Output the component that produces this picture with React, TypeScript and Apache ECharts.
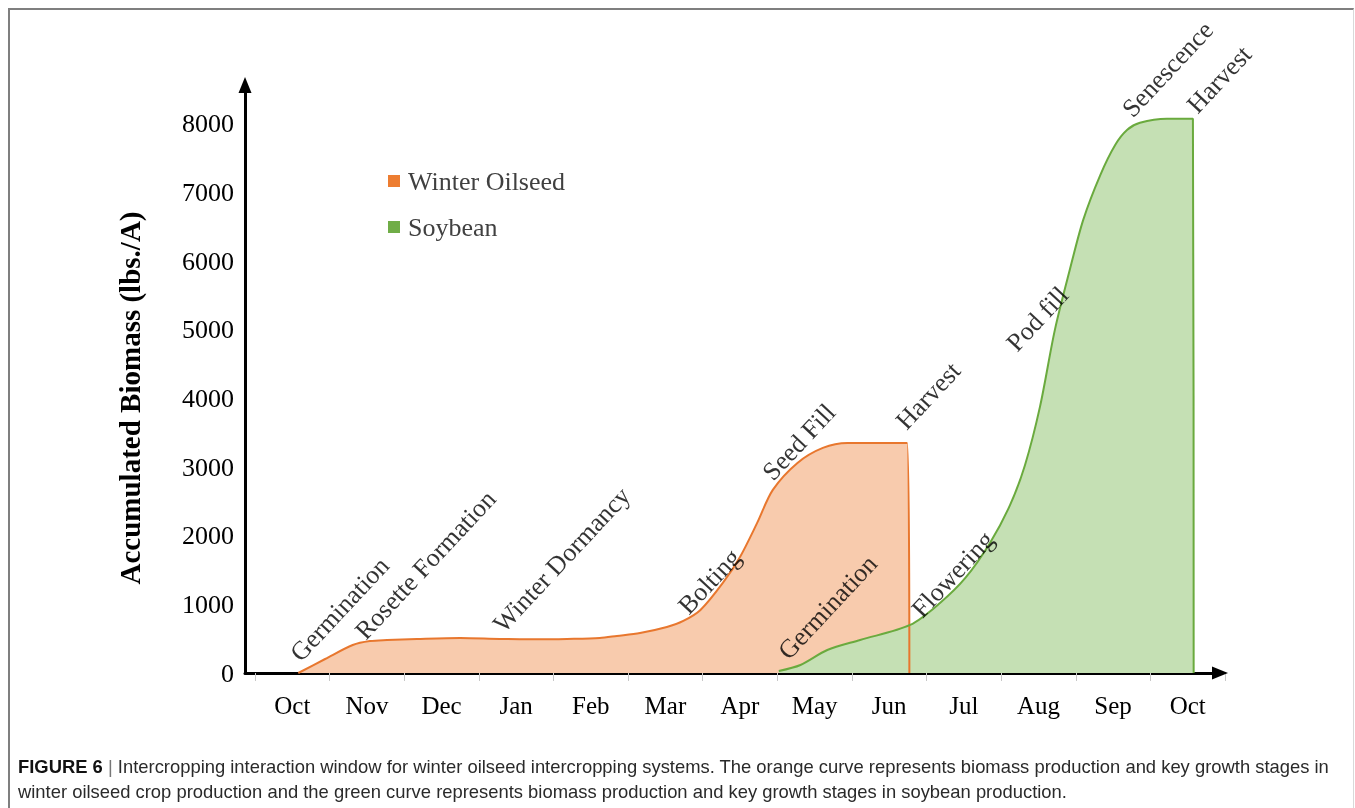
import React, { useEffect, useRef } from 'react';
import * as echarts from 'echarts';

const monthLabels = ['Oct', 'Nov', 'Dec', 'Jan', 'Feb', 'Mar', 'Apr', 'May', 'Jun', 'Jul', 'Aug', 'Sep', 'Oct'];

// x = months elapsed since start of first October, y = accumulated biomass (lbs./A)
const oilseedX = [0.58, 0.94, 1.31, 1.54, 1.77, 2.17, 2.75, 3.28, 3.82, 4.18, 4.62, 4.85, 5.16, 5.52, 5.74, 5.97, 6.27, 6.5, 6.73, 6.94, 7.27, 7.61, 7.94, 8.38, 8.74, 8.77];
const oilseedY = [0, 204, 408, 466, 481, 496, 510, 496, 490, 496, 510, 540, 583, 670, 758, 918, 1312, 1691, 2187, 2668, 3061, 3280, 3353, 3353, 3353, 0];

const soyX = [7.02, 7.31, 7.67, 8.11, 8.78, 9.18, 9.52, 9.85, 10.12, 10.32, 10.52, 10.72, 10.92, 11.1, 11.33, 11.53, 11.69, 11.86, 12.22, 12.57, 12.58];
const soyY = [30, 117, 335, 481, 700, 1020, 1385, 1895, 2449, 3032, 3878, 5000, 5875, 6603, 7259, 7697, 7915, 8017, 8076, 8076, 0];

const stageNames = ['Germination', 'Rosette Formation', 'Winter Dormancy', 'Bolting', 'Seed Fill', 'Harvest', 'Germination', 'Flowering', 'Pod fill', 'Senescence', 'Harvest'];
const stageX = [0.66, 1.53, 3.38, 5.86, 6.99, 8.78, 7.2, 8.99, 10.26, 11.81, 12.68];
const stageY = [100, 420, 525, 790, 2740, 3480, 130, 740, 4620, 8030, 8090];

const SERIF = '"Liberation Serif", "Times New Roman", serif';

export default function App() {
  const ref = useRef<HTMLDivElement>(null);
  useEffect(() => {
    const chart = echarts.init(ref.current!, null, { renderer: 'svg' });
    const yMax = 8568;
    chart.setOption({
      animation: false,
      grid: [
        { left: 245, right: 135, top: 85, bottom: 135 },
        { left: 255, right: 130, top: 85, bottom: 135 },
      ],
      legend: {
        data: ['Winter Oilseed', 'Soybean'],
        orient: 'vertical',
        left: 388,
        top: 168,
        icon: 'rect',
        itemWidth: 12,
        itemHeight: 12,
        itemGap: 20,
        padding: 0,
        textStyle: { fontSize: 26, color: '#404040', fontFamily: SERIF, padding: [0, 0, 0, 3] },
      },
      xAxis: [
        {
          gridIndex: 0,
          type: 'value',
          min: -0.134,
          max: 12.933,
          axisLine: { show: true, onZero: true, symbol: ['none', 'triangle'], symbolSize: [13, 16], lineStyle: { color: '#000', width: 3 } },
          axisTick: { show: false },
          axisLabel: { show: false },
          splitLine: { show: false },
        },
        {
          gridIndex: 1,
          type: 'category',
          data: monthLabels,
          boundaryGap: true,
          axisLine: { show: false },
          axisTick: { show: true, interval: 0, length: 8, lineStyle: { color: '#c8c8c8', width: 1 } },
          axisLabel: { interval: 0, fontSize: 25, margin: 20, color: '#000', fontFamily: SERIF },
          splitLine: { show: false },
        },
      ],
      yAxis: [
        {
          gridIndex: 0,
          type: 'value',
          min: 0,
          max: yMax,
          interval: 1000,
          axisLine: { show: true, onZero: false, symbol: ['none', 'triangle'], symbolSize: [13, 16], lineStyle: { color: '#000', width: 3 } },
          axisTick: { show: false },
          axisLabel: {
            fontSize: 26,
            margin: 11,
            color: '#000',
            fontFamily: SERIF,
            showMaxLabel: false,
            formatter: (v: number) => String(v),
          },
          splitLine: { show: false },
        },
        { gridIndex: 1, type: 'value', min: 0, max: yMax, show: false },
      ],
      graphic: [
        {
          type: 'text',
          x: 130,
          y: 398,
          rotation: Math.PI / 2,
          style: {
            text: 'Accumulated Biomass (lbs./A)',
            font: 'bold 29px ' + SERIF,
            fill: '#000',
            align: 'center',
            verticalAlign: 'middle',
          },
        },
      ],
      series: [
        {
          name: 'Winter Oilseed',
          type: 'line',
          xAxisIndex: 0,
          yAxisIndex: 0,
          data: oilseedX.map((x, i) => [x, oilseedY[i]]),
          smooth: 0.3,
          symbol: 'none',
          showSymbol: false,
          color: '#ED7D31',
          lineStyle: { color: '#E8772E', width: 2 },
          itemStyle: { color: '#ED7D31' },
          areaStyle: { color: '#F8CBAD', opacity: 1 },
          silent: true,
        },
        {
          name: 'Soybean',
          type: 'line',
          xAxisIndex: 0,
          yAxisIndex: 0,
          data: soyX.map((x, i) => [x, soyY[i]]),
          smooth: 0.3,
          symbol: 'none',
          showSymbol: false,
          color: '#70AD47',
          lineStyle: { color: '#6AAA3E', width: 2 },
          itemStyle: { color: '#70AD47' },
          areaStyle: { color: '#C5E0B4', opacity: 1 },
          silent: true,
        },
        {
          name: 'stages',
          type: 'scatter',
          xAxisIndex: 0,
          yAxisIndex: 0,
          symbolSize: 0,
          silent: true,
          data: stageNames.map((n, i) => ({ name: n, value: [stageX[i], stageY[i]] })),
          label: {
            show: true,
            formatter: '{b}',
            position: [0, 0],
            rotate: 47,
            align: 'left',
            verticalAlign: 'bottom',
            fontSize: 26,
            fontFamily: SERIF,
            color: '#000',
          },
          z: 5,
        },
      ],
    });
    return () => chart.dispose();
  }, []);

  return (
    <>
      <div
        style={{
          position: 'fixed',
          left: 8,
          top: 8,
          width: 1346,
          height: 820,
          boxSizing: 'border-box',
          borderTop: '2px solid #7f7f7f',
          borderLeft: '2px solid #7f7f7f',
          borderRight: '1px solid #d9d9d9',
        }}
      />
      <div ref={ref} style={{ position: 'fixed', left: 0, top: 0, width: 1355, height: 808 }} />
      <div
        style={{
          position: 'fixed',
          left: 18,
          top: 754,
          fontFamily: '"Liberation Sans", Arial, sans-serif',
          fontSize: 18.4,
          lineHeight: '25px',
          color: '#2a2a2a',
          whiteSpace: 'nowrap',
        }}
      >
        <span style={{ fontWeight: 'bold', color: '#111' }}>FIGURE 6</span>
        <span style={{ color: '#777' }}> | </span>
        Intercropping interaction window for winter oilseed intercropping systems. The orange curve represents biomass production and key growth stages in
        <br />
        winter oilseed crop production and the green curve represents biomass production and key growth stages in soybean production.
      </div>
    </>
  );
}
